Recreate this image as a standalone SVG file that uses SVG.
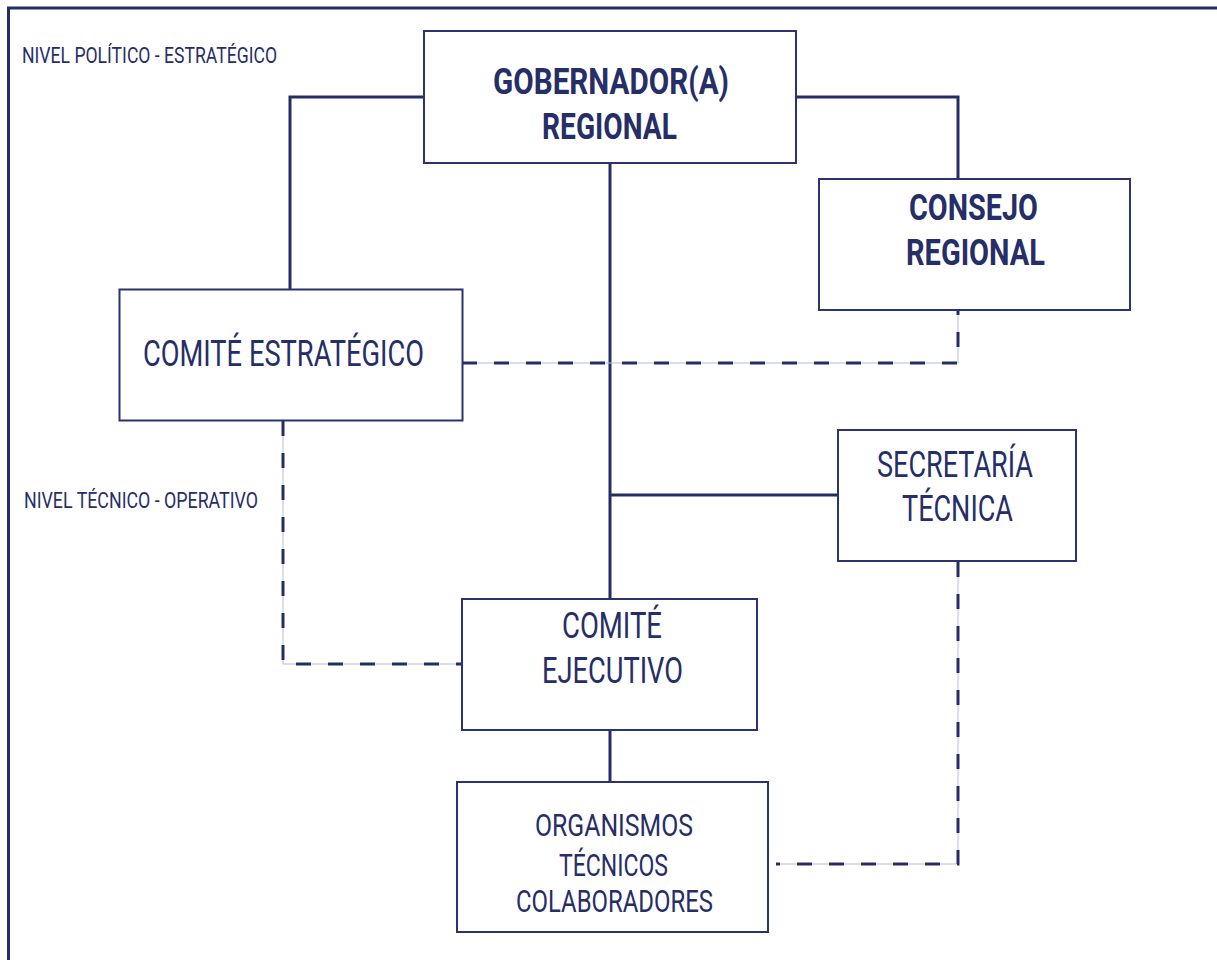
<svg xmlns="http://www.w3.org/2000/svg" width="1217" height="960" viewBox="0 0 1217 960">
<style>
  .box { fill: #ffffff; stroke: #2a3270; stroke-width: 2; }
  .solid { fill: none; stroke: #252d68; stroke-width: 3; }
  .dashbase { fill: none; stroke: #b9bdd2; stroke-width: 1; }
  .dash { fill: none; stroke: #252d68; stroke-width: 3; stroke-dasharray: 15 17; }
  text { font-family: Roboto, "Liberation Sans", sans-serif; fill: #262e68; }
  .lvl { font-size: 22.5px; }
  .b { font-size: 37px; font-weight: bold; }
  .r { font-size: 36px; }
  .s { font-size: 31px; }
</style>
<rect x="0" y="0" width="1217" height="960" fill="#ffffff"/>
<rect x="8.5" y="8" width="1300" height="1100" fill="none" stroke="#252d68" stroke-width="3"/>
<g id="labels">
  <text class="lvl" x="22" y="63" textLength="255" lengthAdjust="spacingAndGlyphs">NIVEL POLÍTICO - ESTRATÉGICO</text>
  <text class="lvl" x="24" y="508" textLength="234" lengthAdjust="spacingAndGlyphs">NIVEL TÉCNICO - OPERATIVO</text>
</g>
<g id="connectors">
  <polyline class="solid" points="424,97 290,97 290,289"/>
  <polyline class="solid" points="796,97 958,97 958,179"/>
  <line class="solid" x1="610" y1="163" x2="610" y2="598"/>
  <line class="solid" x1="610" y1="495" x2="838" y2="495"/>
  <line class="solid" x1="610" y1="731" x2="610" y2="782"/>
  <polyline class="dashbase" points="462,363 958,363 958,310"/>
  <polyline class="dash" points="462,363 958,363 958,310"/>
  <polyline class="dashbase" points="283,421 283,664 462,664"/>
  <polyline class="dash" points="283,421 283,664 462,664"/>
  <polyline class="dashbase" points="958,562 958,864 776,864"/>
  <polyline class="dash" points="958,562 958,864 776,864"/>
</g>
<g id="gobernador">
  <rect class="box" x="424" y="31" width="372" height="132"/>
  <text class="b" x="493" y="93.5" textLength="236" lengthAdjust="spacingAndGlyphs">GOBERNADOR(A)</text>
  <text class="b" x="542" y="138.5" textLength="135" lengthAdjust="spacingAndGlyphs">REGIONAL</text>
</g>
<g id="consejo">
  <rect class="box" x="819" y="179" width="311" height="131"/>
  <text class="b" x="909" y="220" textLength="129" lengthAdjust="spacingAndGlyphs">CONSEJO</text>
  <text class="b" x="906" y="265" textLength="139" lengthAdjust="spacingAndGlyphs">REGIONAL</text>
</g>
<g id="comite-estrategico">
  <rect class="box" x="119.5" y="289.5" width="343" height="131"/>
  <text class="r" x="143" y="366" textLength="281" lengthAdjust="spacingAndGlyphs">COMITÉ ESTRATÉGICO</text>
</g>
<g id="secretaria">
  <rect class="box" x="838" y="430" width="238" height="131"/>
  <text class="r" x="877" y="477" textLength="156" lengthAdjust="spacingAndGlyphs">SECRETARÍA</text>
  <text class="r" x="902" y="521" textLength="111" lengthAdjust="spacingAndGlyphs">TÉCNICA</text>
</g>
<g id="comite-ejecutivo">
  <rect class="box" x="462" y="599" width="295" height="131"/>
  <text class="r" x="562" y="638" textLength="100" lengthAdjust="spacingAndGlyphs">COMITÉ</text>
  <text class="r" x="542" y="683" textLength="141" lengthAdjust="spacingAndGlyphs">EJECUTIVO</text>
</g>
<g id="organismos">
  <rect class="box" x="457" y="782" width="311" height="150"/>
  <text class="s" x="535" y="836" textLength="158" lengthAdjust="spacingAndGlyphs">ORGANISMOS</text>
  <text class="s" x="559" y="876" textLength="109" lengthAdjust="spacingAndGlyphs">TÉCNICOS</text>
  <text class="s" x="516" y="912" textLength="197" lengthAdjust="spacingAndGlyphs">COLABORADORES</text>
</g>
</svg>
